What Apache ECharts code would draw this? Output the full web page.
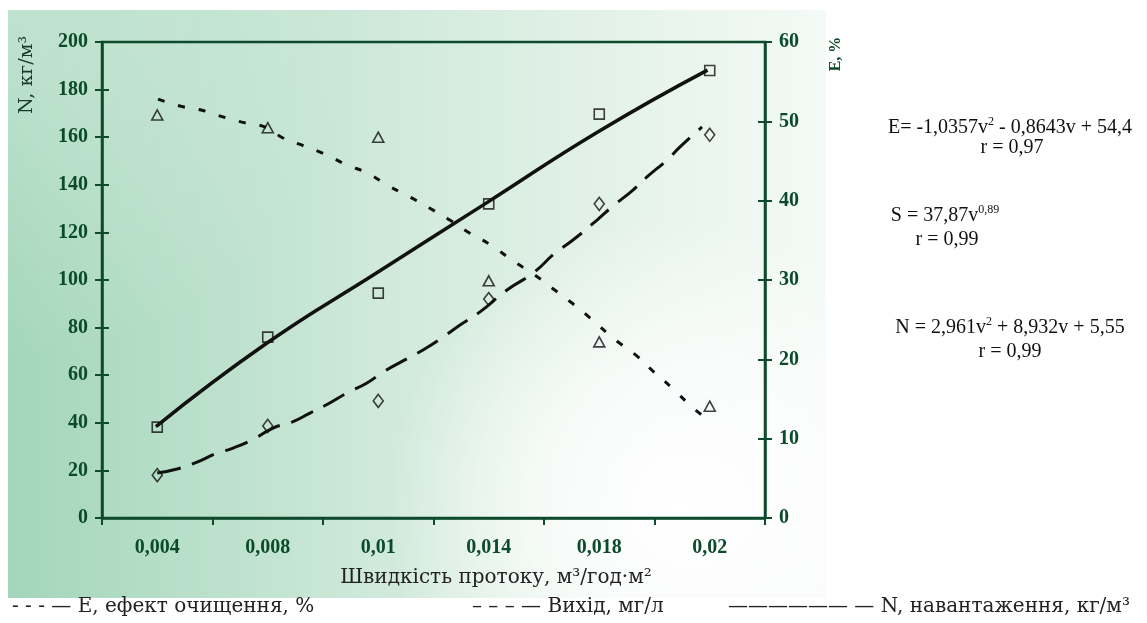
<!DOCTYPE html>
<html><head><meta charset="utf-8">
<script src="https://cdn.jsdelivr.net/npm/echarts@6/dist/echarts.min.js"></script>
<style>html,body{margin:0;padding:0;background:#fff}#c{width:1147px;height:623px}</style>
</head><body><div id="c"></div>
<script>
// Categories (flow speed, m3/h·m2)
const categories = ['0,004', '0,008', '0,01', '0,014', '0,018', '0,02'];
const leftTicks = { min: 0, max: 200, interval: 20 };
const rightTicks = { min: 0, max: 60, interval: 10 };

// Measured points
const effectE = [50.8, 49.2, 48.0, 29.9, 22.2, 14.1];      // E, % (right axis)
const outputS = [18.0, 38.7, 49.2, 92.0, 132.0, 161.0];   // Вихід, мг/л (left axis)
const loadN = [38.2, 76.0, 94.5, 132.0, 169.7, 188.0];    // N, кг/м3 (left axis)

// Fitted curves (x in category-position units, 0..6)
const fitEx = [0.507,0.715,0.905,1.086,1.267,1.493,1.638,1.828,2.027,2.217,2.398,2.588,2.769,2.959,3.131,3.330,3.520,3.710,3.900,4.072,4.262,4.452,4.624,4.842,4.995,5.167,5.339,5.484];
const fitEy = [52.8,51.9,51.4,50.6,49.9,49.2,47.9,46.9,45.8,44.5,43.5,41.9,40.6,39.1,37.7,35.9,34.4,32.5,30.8,29.0,27.0,24.8,22.7,20.4,18.4,16.3,14.0,12.4];
const fitSx = [0.500,0.679,0.860,1.023,1.186,1.357,1.548,1.719,1.882,2.045,2.217,2.398,2.543,2.724,2.905,3.086,3.240,3.421,3.665,3.900,4.100,4.262,4.480,4.615,4.805,4.932,5.113,5.231,5.430];
const fitSy = [18.9,20.6,23.5,26.9,29.4,32.8,37.8,40.3,44.1,47.9,52.5,56.7,61.3,66.0,70.6,76.0,81.1,86.6,95.8,102.9,111.3,116.8,125.2,130.7,137.8,143.3,150.4,155.9,164.3];
const fitNx = [0.488, 1.490, 2.480, 3.480, 4.490, 5.480];
const fitNy = [38.4, 73.4, 102.8, 132.4, 162.3, 188.2];

const pairs = (xs, ys) => xs.map((x, i) => [x, ys[i]]);

const AX = '#0e4a2c';
const TXT = '#111';
const tickFont = { color: '#0c4a2c', fontFamily: 'Liberation Serif', fontWeight: 'bold', fontSize: 20 };
const serif = '"DejaVu Serif", serif';

const chart = echarts.init(document.getElementById('c'), null, { renderer: 'canvas' });

const hollow = { color: 'rgba(0,0,0,0)', borderColor: '#111', borderWidth: 1.6 };

const eqRich = {
  sup: { fontSize: 12, fontFamily: 'Liberation Serif', verticalAlign: 'top', lineHeight: 24, fill: TXT, color: TXT },
};

function eqText(text, x, y) {
  return {
    type: 'text', x: x, y: y, z: 10,
    style: { text: text, font: '20px "Liberation Serif"', fill: TXT, textAlign: 'center', textVerticalAlign: 'middle', rich: eqRich, lineHeight: 24 }
  };
}

const option = {
  animation: false,
  backgroundColor: '#ffffff',
  grid: { left: 102, right: 382, top: 42, bottom: 105, show: true, borderColor: AX, borderWidth: 2.5, backgroundColor: 'rgba(0,0,0,0)' },
  xAxis: [
    { type: 'category', data: categories, boundaryGap: true,
      axisLine: { lineStyle: { color: AX, width: 2.5 } },
      axisTick: { show: true, inside: false, length: 7, lineStyle: { color: AX, width: 2 } },
      axisLabel: Object.assign({ margin: 20 }, tickFont), splitLine: { show: false } },
    { type: 'value', min: 0, max: 6, show: false },
    { type: 'category', data: categories, boundaryGap: true,
      axisLine: { show: false },
      axisTick: { show: true, inside: true, length: 7, lineStyle: { color: AX, width: 2 } },
      axisLabel: { show: false }, splitLine: { show: false } }
  ],
  yAxis: [
    Object.assign({ type: 'value', position: 'left',
      axisLine: { show: true, lineStyle: { color: AX, width: 2.5 } },
      axisTick: { show: true, inside: false, length: 7, lineStyle: { color: AX, width: 2 } },
      axisLabel: Object.assign({ margin: 14 }, tickFont), splitLine: { show: false } }, leftTicks),
    Object.assign({ type: 'value', position: 'right',
      axisLine: { show: true, lineStyle: { color: AX, width: 2.5 } },
      axisTick: { show: true, inside: false, length: 7, lineStyle: { color: AX, width: 2 } },
      axisLabel: Object.assign({ margin: 14 }, tickFont), splitLine: { show: false } }, rightTicks),
    Object.assign({ type: 'value', position: 'left',
      axisLine: { show: false },
      axisTick: { show: true, inside: true, length: 7, lineStyle: { color: AX, width: 2 } },
      axisLabel: { show: false }, splitLine: { show: false } }, leftTicks),
    Object.assign({ type: 'value', position: 'right',
      axisLine: { show: false },
      axisTick: { show: true, inside: true, length: 7, lineStyle: { color: AX, width: 2 } },
      axisLabel: { show: false }, splitLine: { show: false } }, rightTicks)
  ],
  graphic: [
    { type: 'rect', z: -10, silent: true, shape: { x: 8, y: 10, width: 818, height: 588 },
      style: { fill: new echarts.graphic.LinearGradient(0, 0, 1, 0, [
        { offset: 0, color: '#a3d6ba' }, { offset: 0.45, color: '#cfe9da' }, { offset: 0.8, color: '#e8f4ec' }, { offset: 1, color: '#f4faf6' }]) } },
    { type: 'rect', z: -9, silent: true, shape: { x: 8, y: 10, width: 818, height: 588 },
      style: { fill: new echarts.graphic.RadialGradient(0.82, 0.85, 0.5, [
        { offset: 0, color: 'rgba(255,255,255,1)' }, { offset: 0.5, color: 'rgba(255,255,255,0.7)' }, { offset: 1, color: 'rgba(255,255,255,0)' }]) } },
    { type: 'rect', z: -9, silent: true, shape: { x: 8, y: 10, width: 818, height: 588 },
      style: { fill: new echarts.graphic.RadialGradient(0.0, 0.0, 0.6, [
        { offset: 0, color: 'rgba(255,255,255,0.3)' }, { offset: 1, color: 'rgba(255,255,255,0)' }]) } },
    // axis names
    { type: 'text', x: 27, y: 75, rotation: Math.PI / 2, z: 10,
      style: { text: 'N, кг/м³', font: '19px ' + serif, fill: '#1a3a2a', textAlign: 'center', textVerticalAlign: 'middle' } },
    { type: 'text', x: 836, y: 54, rotation: Math.PI / 2, z: 10,
      style: { text: 'E, %', font: 'bold 16px "Liberation Serif"', fill: '#0c4a2c', textAlign: 'center', textVerticalAlign: 'middle' } },
    { type: 'text', x: 496, y: 578, z: 10,
      style: { text: 'Швидкість протоку, м³/год·м²', font: '20px ' + serif, fill: '#222', textAlign: 'center', textVerticalAlign: 'middle' } },
    // equations
    eqText('E= -1,0357v{sup|2} - 0,8643v + 54,4', 1010, 128),
    eqText('r = 0,97', 1012, 148),
    eqText('S = 37,87v{sup|0,89}', 945, 216),
    eqText('r = 0,99', 947, 240),
    eqText('N = 2,961v{sup|2} + 8,932v + 5,55', 1010, 328),
    eqText('r = 0,99', 1010, 352),
    // legend
    { type: 'text', x: 12, y: 607, z: 10, style: { text: '- - - — E, ефект очищення, %', font: '20px ' + serif, fill: '#222', textAlign: 'left', textVerticalAlign: 'middle' } },
    { type: 'text', x: 472, y: 607, z: 10, style: { text: '– – – — Вихід, мг/л', font: '20px ' + serif, fill: '#222', textAlign: 'left', textVerticalAlign: 'middle' } },
    { type: 'text', x: 728, y: 607, z: 10, style: { text: '—————— — N, навантаження, кг/м³', font: '20px ' + serif, fill: '#222', textAlign: 'left', textVerticalAlign: 'middle' } }
  ],
  series: [
    { name: 'E fit', type: 'line', xAxisIndex: 1, yAxisIndex: 1, data: pairs(fitEx, fitEy), smooth: true, showSymbol: false,
      lineStyle: { color: '#111', width: 3, type: [7, 14] }, z: 3 },
    { name: 'Вихід fit', type: 'line', xAxisIndex: 1, yAxisIndex: 0, data: pairs(fitSx, fitSy), smooth: true, showSymbol: false,
      lineStyle: { color: '#111', width: 3, type: [24, 12] }, z: 3 },
    { name: 'N fit', type: 'line', xAxisIndex: 1, yAxisIndex: 0, data: pairs(fitNx, fitNy), smooth: true, showSymbol: false,
      lineStyle: { color: '#111', width: 3.5 }, z: 3 },
    { name: 'E', type: 'scatter', xAxisIndex: 0, yAxisIndex: 1, data: effectE, symbol: 'triangle', symbolSize: [11, 10], itemStyle: hollow, z: 4 },
    { name: 'Вихід', type: 'scatter', xAxisIndex: 0, yAxisIndex: 0, data: outputS, symbol: 'diamond', symbolSize: [10, 13], itemStyle: hollow, z: 4 },
    { name: 'N', type: 'scatter', xAxisIndex: 0, yAxisIndex: 0, data: loadN, symbol: 'rect', symbolSize: [10, 10], itemStyle: hollow, z: 4 }
  ]
};
chart.setOption(option);
</script>
</body></html>
